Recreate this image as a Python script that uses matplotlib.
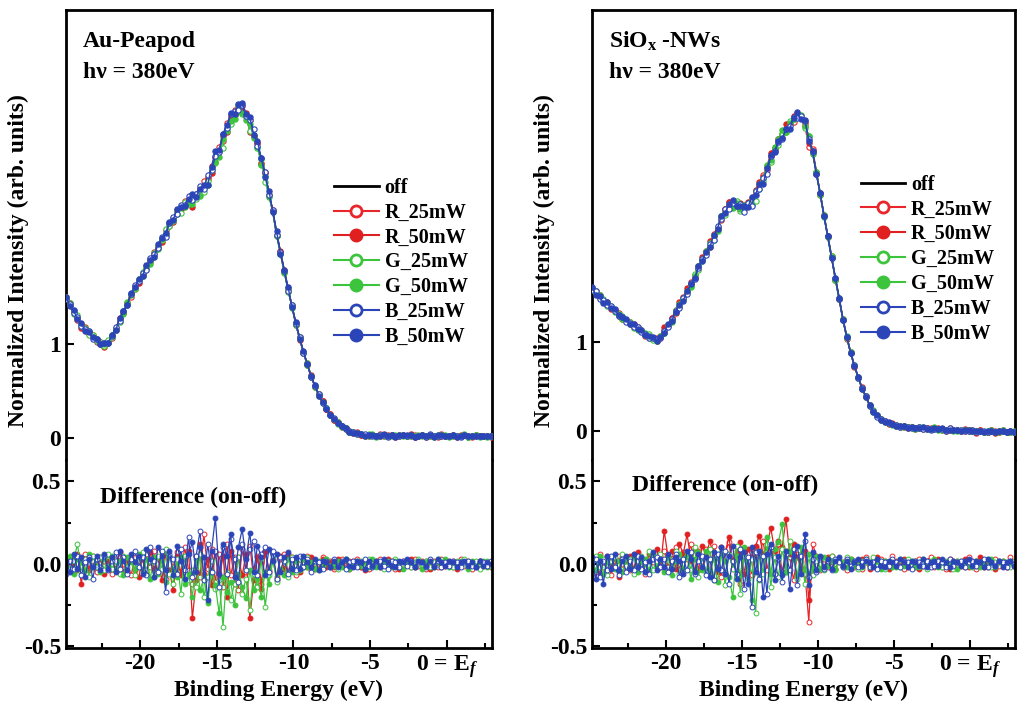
import numpy as np
import matplotlib
matplotlib.use('Agg')
import matplotlib.pyplot as plt
from matplotlib.lines import Line2D
from matplotlib.ticker import MultipleLocator, FixedLocator

# 字体: Times 风格粗体
plt.rcParams['font.family'] = ['Liberation Serif', 'DejaVu Serif']
plt.rcParams['font.weight'] = 'bold'
plt.rcParams['mathtext.fontset'] = 'custom'
plt.rcParams['mathtext.rm'] = 'Liberation Serif:bold'
plt.rcParams['mathtext.bf'] = 'Liberation Serif:bold'
plt.rcParams['mathtext.it'] = 'Liberation Serif:italic:bold'

# energy grid of the spectra (eV), 0.25 eV step
E_START = -24.85
E_STEP = 0.25

# ---------------- Au-Peapod ----------------
au_off = [1.49, 1.42, 1.34, 1.27, 1.21, 1.16, 1.12, 1.08, 1.04, 1.01,
          0.99, 1.02, 1.08, 1.16, 1.25, 1.34, 1.43, 1.52, 1.60, 1.67,
          1.74, 1.81, 1.88, 1.95, 2.03, 2.11, 2.19, 2.27, 2.34, 2.40,
          2.45, 2.49, 2.52, 2.55, 2.58, 2.62, 2.68, 2.76, 2.86, 2.97,
          3.08, 3.20, 3.31, 3.40, 3.47, 3.52, 3.50, 3.44, 3.35, 3.24,
          3.12, 2.96, 2.80, 2.60, 2.40, 2.18, 1.97, 1.77, 1.58, 1.40,
          1.22, 1.06, 0.91, 0.78, 0.66, 0.55, 0.46, 0.38, 0.31, 0.25,
          0.20, 0.16, 0.12, 0.10, 0.07, 0.06, 0.05, 0.04, 0.03, 0.03,
          0.03, 0.02, 0.03, 0.03, 0.02, 0.03, 0.02, 0.03, 0.03, 0.02,
          0.03, 0.02, 0.02, 0.03, 0.02, 0.03, 0.02, 0.02, 0.03, 0.02,
          0.02, 0.03, 0.02, 0.02, 0.03, 0.02, 0.02, 0.03, 0.02, 0.02,
          0.02, 0.02]

# difference (on - off)
au_r25 = [0.03, -0.02, 0.05, -0.04, 0.01, 0.06, -0.03, 0.02, -0.05, 0.04,
          -0.01, 0.03, -0.06, 0.02, 0.05, -0.03, 0.01, -0.07, 0.04, 0.02,
          -0.04, 0.06, -0.02, 0.08, -0.05, 0.03, -0.09, 0.05, -0.02, 0.07,
          -0.06, 0.10, -0.04, -0.12, 0.05, -0.08, 0.18, -0.03, 0.09, -0.11,
          0.06, -0.14, 0.12, -0.07, 0.04, -0.16, 0.09, -0.05, 0.11, -0.09,
          0.05, -0.12, 0.08, -0.04, 0.07, -0.10, 0.03, 0.06, -0.05, 0.04,
          -0.07, 0.03, -0.02, 0.05, -0.04, 0.02, -0.03, 0.04, -0.01, 0.02,
          -0.03, 0.01, 0.03, -0.02, 0.02, -0.01, 0.03, -0.02, 0.01, -0.03,
          0.02, -0.01, 0.03, -0.02, 0.01, 0.02, -0.03, 0.01, -0.01, 0.02,
          -0.02, 0.03, -0.01, 0.02, -0.03, 0.01, 0.02, -0.02, 0.03, -0.01,
          0.02, -0.02, 0.01, 0.03, -0.01, 0.02, -0.03, 0.01, 0.02, -0.01,
          0.01, -0.02]
au_r50 = [-0.05, 0.04, -0.02, 0.06, -0.12, 0.03, -0.04, 0.05, -0.01, 0.03,
          -0.06, 0.02, 0.04, -0.03, 0.07, -0.05, 0.02, 0.05, -0.04, -0.08,
          0.03, -0.05, 0.07, -0.03, 0.04, -0.10, 0.06, -0.04, -0.16, 0.05,
          -0.07, 0.04, 0.08, -0.33, -0.10, 0.12, -0.06, 0.03, -0.13, 0.07,
          -0.09, 0.05, -0.20, 0.08, -0.12, 0.04, -0.07, 0.06, -0.33, -0.10,
          0.04, -0.15, 0.07, -0.05, 0.03, -0.08, 0.05, -0.03, 0.06, -0.04,
          0.02, -0.05, 0.03, -0.02, 0.04, -0.03, 0.01, 0.03, -0.02, 0.01,
          -0.02, 0.03, -0.01, 0.02, -0.03, 0.02, 0.01, -0.02, -0.04, 0.02,
          -0.01, 0.02, -0.02, 0.01, 0.03, -0.01, 0.02, -0.03, 0.02, 0.01,
          0.03, -0.02, 0.01, -0.01, 0.02, -0.03, 0.01, 0.02, -0.02, 0.01,
          -0.01, 0.02, -0.03, 0.01, 0.02, -0.02, 0.01, -0.01, 0.02, 0.01,
          -0.01, 0.01]
au_g25 = [0.04, -0.03, 0.02, 0.12, -0.05, 0.03, -0.08, 0.05, -0.02, 0.04,
          -0.04, 0.06, -0.03, 0.02, -0.06, 0.05, -0.02, 0.03, -0.07, 0.04,
          0.07, -0.04, 0.02, -0.08, 0.05, -0.03, 0.09, -0.06, -0.12, 0.03,
          -0.18, 0.05, -0.10, -0.04, -0.14, 0.06, -0.20, -0.08, 0.02, -0.15,
          -0.10, -0.38, -0.05, -0.22, -0.12, 0.04, -0.18, -0.09, -0.28, -0.06,
          -0.14, 0.03, -0.26, -0.07, 0.05, -0.11, -0.04, 0.02, -0.08, 0.04,
          -0.05, 0.03, -0.02, 0.04, -0.03, 0.01, -0.04, 0.02, 0.03, -0.01,
          0.02, -0.03, 0.01, 0.03, -0.02, 0.01, -0.01, 0.02, -0.02, 0.03,
          -0.01, 0.02, 0.01, -0.03, 0.02, -0.01, 0.03, -0.02, 0.01, 0.02,
          -0.02, 0.01, 0.03, -0.01, 0.02, -0.02, 0.01, 0.03, -0.01, 0.02,
          0.01, -0.02, 0.02, -0.01, 0.03, -0.02, 0.01, 0.02, -0.03, 0.01,
          0.02, -0.01]
au_g50 = [-0.02, 0.05, -0.06, 0.03, 0.01, -0.04, 0.06, -0.02, 0.03, -0.05,
          0.03, -0.02, 0.05, -0.04, 0.02, -0.07, 0.04, 0.01, -0.03, 0.06,
          -0.05, 0.03, -0.09, 0.04, -0.06, 0.02, -0.11, 0.05, -0.03, -0.08,
          0.04, -0.12, -0.06, -0.20, 0.03, -0.16, -0.09, -0.24, -0.05, -0.13,
          -0.30, -0.08, -0.17, -0.11, -0.25, -0.06, -0.14, -0.21, -0.04, -0.16,
          -0.09, -0.20, -0.05, -0.12, 0.02, -0.09, -0.03, -0.07, 0.03, -0.05,
          0.02, -0.04, 0.03, -0.02, 0.01, -0.03, 0.02, -0.01, 0.03, -0.02,
          -0.01, 0.02, -0.02, 0.03, -0.03, 0.01, 0.02, -0.01, 0.01, -0.02,
          0.03, -0.02, 0.01, 0.02, -0.01, -0.02, 0.02, 0.01, -0.03, 0.02,
          0.01, -0.01, 0.02, -0.03, 0.01, 0.02, -0.02, 0.01, -0.01, 0.03,
          -0.02, 0.01, -0.01, 0.02, 0.01, -0.03, 0.02, -0.01, 0.01, 0.02,
          -0.02, 0.01]
au_b25 = [-0.06, 0.02, -0.03, 0.05, -0.07, 0.01, 0.04, -0.09, 0.03, -0.02,
          0.05, -0.04, 0.02, 0.07, -0.03, 0.04, -0.06, 0.03, 0.08, -0.02,
          0.04, -0.07, 0.10, 0.02, -0.05, 0.08, -0.17, 0.06, 0.03, -0.06,
          0.09, -0.04, 0.16, -0.08, 0.05, 0.20, -0.10, 0.12, -0.05, 0.08,
          -0.14, 0.10, -0.06, 0.15, 0.03, -0.11, 0.12, -0.04, 0.09, 0.14,
          -0.07, 0.06, 0.10, -0.05, 0.08, -0.09, 0.04, 0.02, -0.06, 0.03,
          -0.04, 0.05, -0.02, 0.03, -0.05, 0.02, 0.01, -0.03, 0.02, -0.02,
          0.03, -0.01, 0.02, -0.03, 0.01, 0.02, -0.02, 0.01, 0.03, -0.01,
          -0.02, 0.01, 0.02, -0.01, -0.03, 0.02, 0.01, -0.02, 0.02, -0.01,
          0.02, -0.02, 0.01, 0.01, -0.02, 0.03, -0.01, 0.02, -0.02, 0.01,
          -0.01, 0.02, 0.01, -0.02, 0.01, 0.02, -0.01, -0.02, 0.02, 0.01,
          -0.01, 0.02]
au_b50 = [0.02, -0.05, 0.06, -0.03, 0.04, -0.08, 0.03, -0.02, 0.05, -0.04,
          0.06, -0.03, 0.04, -0.05, 0.08, 0.02, -0.04, 0.06, 0.01, 0.05,
          -0.06, 0.09, 0.03, -0.08, 0.10, 0.05, -0.04, 0.08, -0.07, 0.11,
          0.02, -0.09, 0.06, 0.13, -0.05, 0.10, 0.04, -0.22, 0.08, 0.28,
          -0.06, 0.12, 0.05, 0.18, -0.08, 0.10, 0.21, 0.03, 0.19, -0.05,
          0.11, 0.04, -0.07, 0.09, 0.02, 0.06, -0.05, 0.04, 0.07, -0.03,
          0.04, -0.03, 0.05, 0.01, -0.02, 0.03, -0.04, 0.02, 0.01, -0.02,
          0.02, -0.02, 0.01, 0.03, -0.01, -0.02, 0.02, 0.01, -0.03, 0.02,
          -0.01, 0.02, -0.02, 0.03, 0.01, -0.01, -0.02, 0.02, 0.01, 0.03,
          0.01, -0.02, 0.02, 0.01, -0.01, 0.02, -0.02, 0.03, 0.01, -0.01,
          0.02, 0.01, -0.02, 0.01, 0.02, -0.01, 0.01, -0.02, 0.02, -0.01,
          0.01, 0.00]

# ---------------- SiOx-NWs ----------------
si_off = [1.60, 1.56, 1.51, 1.47, 1.43, 1.39, 1.35, 1.31, 1.27, 1.24,
          1.21, 1.18, 1.15, 1.12, 1.09, 1.06, 1.03, 1.02, 1.05, 1.11,
          1.18, 1.25, 1.33, 1.41, 1.48, 1.55, 1.64, 1.73, 1.83, 1.92,
          2.00, 2.09, 2.18, 2.28, 2.39, 2.47, 2.53, 2.56, 2.55, 2.52,
          2.51, 2.55, 2.60, 2.67, 2.75, 2.83, 2.94, 3.06, 3.16, 3.24,
          3.31, 3.37, 3.44, 3.50, 3.55, 3.52, 3.44, 3.30, 3.13, 2.90,
          2.66, 2.42, 2.18, 1.95, 1.71, 1.48, 1.25, 1.05, 0.88, 0.73,
          0.60, 0.48, 0.38, 0.29, 0.22, 0.17, 0.13, 0.11, 0.09, 0.07,
          0.06, 0.05, 0.05, 0.04, 0.04, 0.03, 0.04, 0.03, 0.03, 0.02,
          0.03, 0.02, 0.02, 0.01, 0.02, 0.01, 0.01, 0.00, 0.01, 0.00,
          0.00, -0.01, 0.00, -0.01, -0.01, 0.00, -0.01, -0.01, 0.00, -0.01,
          -0.01, -0.01]

si_r25 = [0.03, -0.05, 0.06, -0.02, 0.04, -0.07, 0.02, 0.05, -0.03, 0.01,
          -0.04, 0.06, -0.02, 0.03, -0.06, 0.04, 0.01, -0.03, 0.05, 0.08,
          -0.02, 0.06, 0.10, -0.04, 0.07, 0.03, 0.12, -0.05, 0.08, 0.02,
          0.09, -0.06, 0.11, 0.04, -0.08, 0.07, 0.13, -0.03, 0.05, -0.12,
          0.08, 0.02, -0.07, 0.10, 0.05, 0.14, -0.04, 0.09, 0.03, 0.12,
          -0.05, 0.08, 0.04, -0.10, 0.06, 0.02, -0.06, -0.35, 0.12, 0.05,
          -0.04, 0.03, -0.02, 0.05, -0.03, 0.02, 0.01, -0.04, 0.03, -0.02,
          0.02, -0.03, 0.04, -0.01, 0.02, -0.02, 0.03, 0.01, -0.02, 0.05,
          -0.01, 0.02, -0.03, 0.02, 0.01, -0.02, 0.03, -0.01, 0.02, 0.04,
          -0.02, 0.01, 0.02, -0.03, 0.03, -0.01, 0.02, 0.01, -0.02, 0.04,
          0.01, -0.03, 0.02, 0.01, -0.02, 0.02, 0.03, -0.01, 0.01, -0.02,
          0.04, 0.01]
si_r50 = [-0.03, 0.04, -0.06, 0.02, 0.05, -0.02, 0.03, -0.08, 0.04, 0.01,
          0.05, -0.03, 0.07, 0.02, -0.04, 0.06, 0.03, 0.09, -0.02, 0.20,
          0.04, 0.08, -0.03, 0.12, 0.06, 0.18, 0.02, 0.09, -0.04, 0.11,
          0.05, 0.14, 0.03, -0.05, 0.10, 0.07, 0.16, 0.02, 0.08, 0.13,
          -0.06, 0.09, 0.04, 0.11, 0.17, 0.06, 0.10, 0.22, 0.08, 0.14,
          0.10, 0.27, 0.06, 0.12, 0.04, -0.03, 0.08, -0.22, 0.05, -0.04,
          0.03, -0.02, 0.04, 0.01, -0.03, 0.02, -0.01, 0.03, -0.02, 0.01,
          -0.02, 0.03, 0.01, -0.03, 0.02, 0.04, -0.01, 0.02, -0.03, 0.01,
          0.02, -0.01, 0.03, -0.02, 0.01, 0.02, -0.03, 0.01, 0.02, -0.01,
          0.01, 0.03, -0.02, 0.01, -0.03, 0.02, 0.01, -0.01, 0.03, -0.02,
          0.02, -0.01, 0.04, -0.02, 0.01, 0.02, -0.03, 0.01, 0.02, -0.02,
          0.01, -0.01]
si_g25 = [-0.04, 0.05, -0.02, 0.03, -0.07, 0.02, 0.04, -0.05, 0.06, -0.01,
          0.03, -0.06, 0.02, 0.05, -0.03, 0.08, -0.04, 0.02, 0.06, -0.03,
          0.05, -0.02, 0.08, -0.06, 0.03, 0.07, -0.04, 0.10, -0.08, 0.04,
          -0.05, 0.09, -0.10, 0.04, 0.07, -0.13, 0.06, -0.03, 0.11, -0.18,
          0.05, -0.09, 0.03, -0.30, 0.08, -0.06, 0.12, -0.14, 0.04, -0.08,
          0.09, -0.05, 0.14, 0.03, -0.09, 0.06, -0.12, 0.04, -0.07, 0.02,
          0.03, -0.04, 0.02, 0.05, -0.03, 0.01, -0.02, 0.04, -0.01, 0.02,
          -0.03, 0.02, 0.01, -0.02, 0.04, -0.01, 0.02, -0.03, 0.01, 0.02,
          0.01, -0.02, 0.02, 0.03, -0.01, 0.02, -0.02, 0.01, -0.03, 0.02,
          0.02, -0.01, -0.02, 0.02, 0.01, -0.03, 0.02, 0.01, -0.01, 0.02,
          -0.02, 0.02, 0.01, -0.01, 0.03, -0.02, 0.01, 0.02, -0.01, 0.01,
          -0.02, 0.02]
si_g50 = [0.02, -0.04, 0.05, -0.06, 0.01, 0.04, -0.03, 0.02, -0.05, 0.03,
          -0.02, 0.04, -0.05, 0.01, 0.03, -0.04, 0.06, -0.02, 0.03, -0.05,
          0.04, -0.07, 0.02, 0.06, -0.03, 0.05, -0.09, 0.03, 0.07, -0.04,
          0.08, -0.05, 0.03, -0.11, 0.06, 0.02, -0.08, -0.20, 0.05, -0.07,
          0.10, -0.04, -0.22, 0.07, -0.10, 0.04, 0.16, -0.06, 0.09, 0.13,
          0.24, -0.05, 0.08, 0.03, -0.07, 0.10, -0.04, 0.06, -0.03, 0.05,
          -0.03, 0.04, -0.01, 0.02, -0.04, 0.03, 0.01, -0.02, 0.03, -0.01,
          0.02, -0.02, 0.03, 0.01, -0.01, 0.02, -0.03, 0.02, 0.01, -0.02,
          -0.02, 0.03, -0.01, 0.01, 0.02, -0.02, 0.01, 0.03, -0.01, 0.01,
          0.03, -0.02, 0.01, -0.01, 0.02, 0.01, -0.03, 0.02, 0.01, -0.01,
          0.01, 0.02, -0.02, 0.01, -0.01, 0.03, -0.02, 0.01, 0.02, -0.01,
          0.01, -0.01]
si_b25 = [-0.06, 0.03, -0.08, 0.02, -0.04, 0.05, -0.02, -0.07, 0.03, -0.05,
          0.02, -0.04, 0.05, -0.03, 0.01, -0.06, 0.03, 0.04, -0.02, 0.03,
          -0.05, 0.02, 0.06, -0.08, 0.03, -0.04, 0.07, -0.06, 0.02, 0.05,
          -0.07, 0.03, -0.10, 0.06, -0.04, 0.08, -0.12, 0.02, -0.06, 0.09,
          -0.15, 0.04, -0.26, 0.07, -0.09, 0.05, -0.18, 0.10, -0.06, 0.03,
          -0.11, 0.06, -0.04, 0.09, -0.13, 0.05, 0.14, -0.08, 0.03, -0.05,
          0.04, -0.03, 0.02, -0.04, 0.03, 0.01, -0.02, 0.03, -0.01, 0.02,
          -0.02, 0.01, 0.03, -0.02, 0.01, -0.03, 0.02, 0.01, -0.01, 0.03,
          0.01, -0.02, 0.02, 0.01, -0.03, 0.02, 0.01, -0.01, 0.02, -0.02,
          -0.01, 0.02, 0.01, -0.02, 0.03, -0.01, 0.01, 0.02, -0.02, 0.01,
          0.02, -0.01, 0.01, 0.03, -0.02, 0.01, -0.01, 0.02, 0.01, -0.02,
          0.02, 0.00]
si_b50 = [0.04, -0.09, 0.02, -0.12, 0.05, -0.03, 0.06, -0.04, 0.02, 0.05,
          -0.03, 0.06, -0.02, 0.04, -0.05, 0.02, 0.07, -0.04, 0.03, -0.02,
          0.06, -0.03, 0.04, 0.02, -0.06, 0.08, 0.03, -0.05, 0.06, -0.02,
          0.04, -0.08, 0.07, -0.03, 0.10, -0.06, 0.05, 0.11, -0.09, 0.04,
          0.07, -0.12, 0.10, -0.05, 0.08, -0.20, 0.06, 0.12, -0.10, 0.05,
          -0.07, 0.08, -0.15, 0.05, 0.11, -0.06, 0.18, -0.13, 0.07, -0.04,
          0.05, -0.02, 0.03, -0.03, 0.02, 0.04, -0.01, 0.02, -0.03, 0.01,
          0.03, -0.01, 0.02, 0.01, -0.02, 0.03, -0.01, -0.02, 0.02, 0.01,
          -0.01, 0.03, 0.01, -0.02, 0.02, 0.01, -0.01, 0.03, -0.02, 0.01,
          0.02, -0.01, 0.03, 0.01, -0.02, 0.02, 0.01, -0.01, 0.02, 0.03,
          -0.01, 0.02, 0.01, -0.02, 0.03, 0.01, -0.01, 0.02, -0.02, 0.01,
          0.02, -0.01]

labels = ['R_25mW', 'R_50mW', 'G_25mW', 'G_50mW', 'B_25mW', 'B_50mW']
colors = ['#e8262b', '#e02020', '#3cc43c', '#3cc43c', '#2b44b8', '#2b44b8']
filled = [False, True, False, True, False, True]
# the on-state spectra in the upper plot wobble about a third as much as the difference plot
UPPER_SPREAD = 0.3

FS = 17


def style_axis(ax):
    for s in ax.spines.values():
        s.set_linewidth(2)
    ax.tick_params(direction='in', which='both', labelsize=FS, width=1.5,
                   top=False, right=False)
    ax.tick_params(which='major', length=6)
    ax.tick_params(which='minor', length=3.5)
    ax.set_xlim(-24.85, 2.95)


def draw_panel(fig, left, width, off, diffs, ylim_up, title, diff_xy, leg_anchor):
    n = min(len(off), *[len(d) for d in diffs])
    energy = E_START + E_STEP * np.arange(n)
    off = np.array(off[:n])

    ax_up = fig.add_axes([left, 0.3494, width, 0.6365])
    ax_dn = fig.add_axes([left, 0.0835, width, 0.2659])

    # 上图: 光谱
    ax_up.plot(energy, off, color='black', lw=1.2, zorder=2)
    for d, c, f in zip(diffs, colors, filled):
        on = off + UPPER_SPREAD * np.array(d[:n])
        ax_up.plot(energy, on, color=c, lw=1.0, marker='o', ms=3.8,
                   mfc=c if f else 'white', mec=c, mew=0.8, zorder=3)
    # 下图: 差值
    for d, c, f in zip(diffs, colors, filled):
        ax_dn.plot(energy, np.array(d[:n]), color=c, lw=0.9, marker='o', ms=3.5,
                   mfc=c if f else 'white', mec=c, mew=0.7)

    style_axis(ax_up)
    style_axis(ax_dn)
    ax_up.spines['bottom'].set_visible(False)
    ax_dn.spines['top'].set_visible(False)
    ax_up.tick_params(axis='x', which='both', bottom=False, labelbottom=False)

    ax_up.set_ylim(*ylim_up)
    ax_up.yaxis.set_major_locator(FixedLocator([0, 1]))
    ax_up.set_yticklabels(['0', '1'])

    ax_dn.set_ylim(-0.51, 0.63)
    ax_dn.yaxis.set_major_locator(FixedLocator([-0.5, 0.0, 0.5]))
    ax_dn.yaxis.set_minor_locator(FixedLocator([-0.25, 0.25]))
    ax_dn.set_yticklabels(['-0.5', '0.0', '0.5'])

    ax_dn.xaxis.set_major_locator(FixedLocator([-20, -15, -10, -5, 0]))
    ax_dn.xaxis.set_minor_locator(MultipleLocator(2.5))
    ax_dn.set_xticklabels(['-20', '-15', '-10', '-5', r'0 = E$_\mathit{f}$'])
    ax_dn.set_xlabel('Binding Energy (eV)', fontsize=17, fontweight='bold', labelpad=0)

    ax_up.text(0.04, 0.93, title, transform=ax_up.transAxes, fontsize=FS,
               fontweight='bold', va='center')
    ax_up.text(0.04, 0.862, 'hν = 380eV', transform=ax_up.transAxes, fontsize=FS,
               fontweight='bold', va='center')
    ax_dn.text(diff_xy[0], diff_xy[1], 'Difference (on-off)', transform=ax_dn.transAxes,
               fontsize=FS, fontweight='bold', ha='center', va='center')

    handles = [Line2D([], [], color='black', lw=2)]
    for c, f in zip(colors, filled):
        handles.append(Line2D([], [], color=c, lw=1.5, marker='o', ms=8,
                              mfc=c if f else 'white', mec=c, mew=2))
    ax_up.legend(handles, ['off'] + labels, loc='upper left', bbox_to_anchor=leg_anchor,
                 frameon=False, fontsize=14.5, handlelength=2.2, handletextpad=0.3,
                 labelspacing=0.24, borderpad=0, borderaxespad=0)

    # y 轴标题
    fig.text(left - 48 / 1021, 1 - 261 / 707, 'Normalized Intensity (arb. units)',
             rotation=90, ha='center', va='center', fontsize=17, fontweight='bold')


fig = plt.figure(figsize=(10.21, 7.07), dpi=100)
draw_panel(fig, 0.0646, 0.4172, au_off,
           [au_r25, au_r50, au_g25, au_g50, au_b25, au_b50],
           (-0.234, 4.55), 'Au-Peapod', (0.298, 0.80), (0.63, 0.627))
draw_panel(fig, 0.5798, 0.4143, si_off,
           [si_r25, si_r50, si_g25, si_g50, si_b25, si_b50],
           (-0.326, 4.73), r'SiO$_\mathregular{x}$ -NWs', (0.314, 0.867), (0.635, 0.634))

plt.savefig('out.png', dpi=100)
plt.close()
